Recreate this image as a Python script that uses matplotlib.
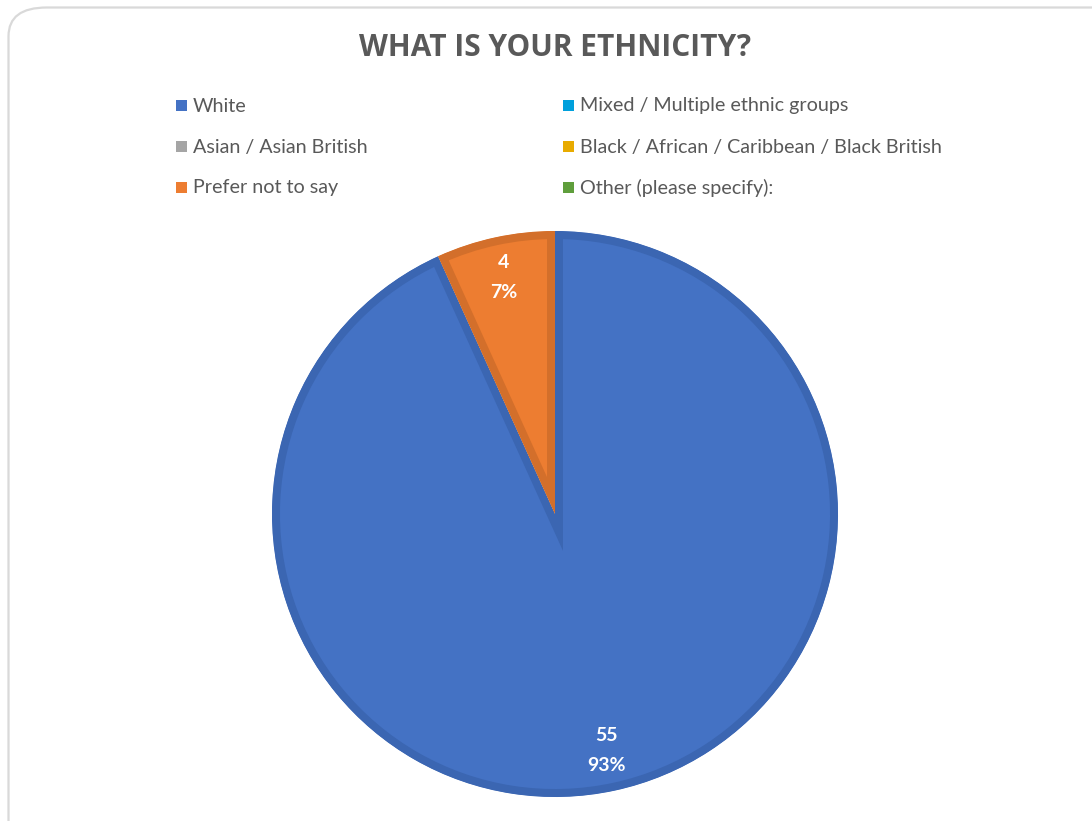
import matplotlib
matplotlib.use("Agg")
import matplotlib.pyplot as plt
from matplotlib.patches import FancyBboxPatch, Rectangle

# ---- data ----
categories = ["White", "Mixed / Multiple ethnic groups", "Asian / Asian British",
              "Black / African / Caribbean / Black British", "Prefer not to say",
              "Other (please specify):"]
counts = [55, 0, 0, 0, 4, 0]
fill_colors = ["#4472C4", "#00A0DC", "#A5A5A5", "#E8AB00", "#ED7D31", "#5F9E3C"]
edge_colors = ["#3B66B2", "#0090C6", "#959595", "#D09A00", "#D36F2B", "#548C35"]
title = "WHAT IS YOUR ETHNICITY?"

W, H = 1092, 821
fig = plt.figure(figsize=(W / 100, H / 100), dpi=100)
fig.patch.set_facecolor("white")

# chart frame (rounded, light grey)
frame = FancyBboxPatch((8.5 / W, 1 - 1000 / H), 1200 / W, (1000 - 7.5) / H,
                       boxstyle="round,pad=0,rounding_size=0.035",
                       transform=fig.transFigure, facecolor="none",
                       edgecolor="#D9D9D9", linewidth=1.6, clip_on=False)
fig.patches.append(frame)

ax = fig.add_axes([0, 0, 1, 1])
ax.axis("off")

total = sum(counts)


def fmt(pct):
    val = int(round(pct * total / 100.0))
    if val == 0:
        return ""
    return f"{val}\n{pct:.0f}%"


wedges, texts, autotexts = ax.pie(
    counts, colors=fill_colors, startangle=90, counterclock=False,
    center=(555, H - 514), radius=283, autopct=fmt, pctdistance=0.855,
    wedgeprops=dict(linewidth=11.5, joinstyle="miter"),
    textprops=dict(color="white", fontsize=14, fontweight="bold",
                   family="Lato", linespacing=1.95),
)
for w, ec, v in zip(wedges, edge_colors, counts):
    w.set_edgecolor(ec)
    w.set_clip_on(True)
    w.set_clip_path(w)
    if v == 0:
        w.set_visible(False)
for t in autotexts:
    t.set_ha("center")
    t.set_va("center")

ax.set_xlim(0, W)
ax.set_ylim(0, H)
ax.set_aspect("equal")

# title
fig.text(555 / W, 1 - 48 / H, title, ha="center", va="center",
         fontsize=21.5, fontweight="bold", color="#595959", family="Open Sans")

# legend (row-major, two columns)
col_text_x = [193, 580]
row_y = [106, 147, 188]
for i, (lab, col) in enumerate(zip(categories, fill_colors)):
    r, c = divmod(i, 2)
    tx = col_text_x[c]
    ty = row_y[r]
    fig.patches.append(Rectangle(((tx - 17) / W, 1 - (ty + 5) / H), 11 / W, 11 / H,
                                 transform=fig.transFigure, facecolor=col,
                                 edgecolor="none"))
    fig.text(tx / W, 1 - ty / H, lab, ha="left", va="center", fontsize=14.2,
             color="#595959", family="Lato")

fig.savefig("out.png", dpi=100)
